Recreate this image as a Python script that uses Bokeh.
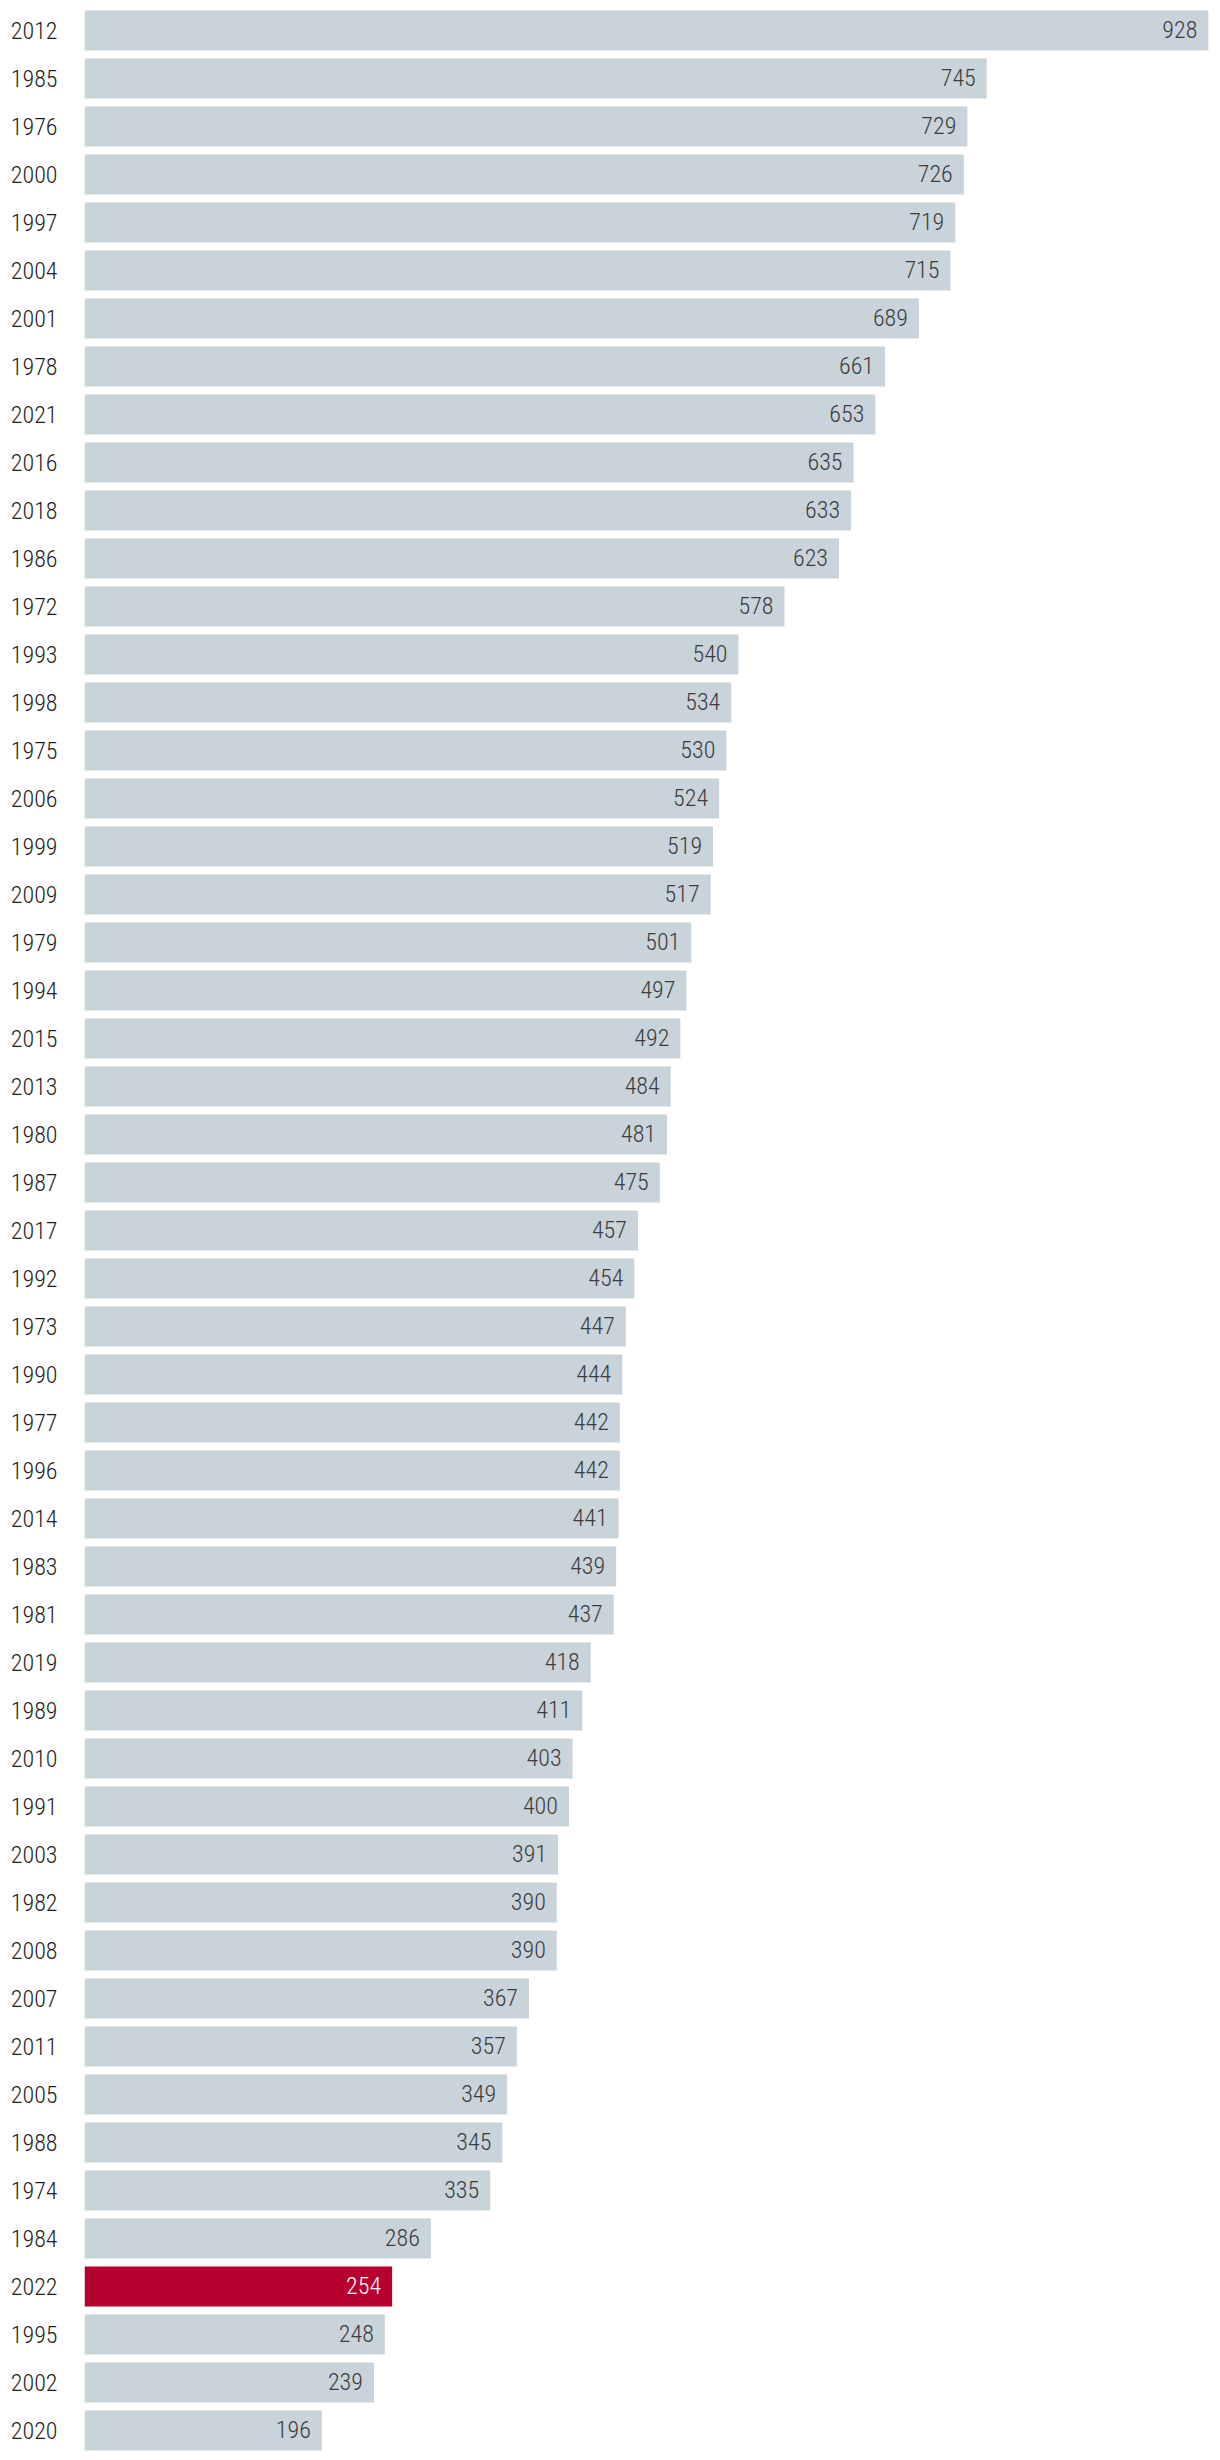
from bokeh.plotting import figure
from bokeh.models import ColumnDataSource, FactorRange, Range1d
from bokeh.core.properties import value
from bokeh.embed import file_html
from bokeh.resources import INLINE

years = ["2012", "1985", "1976", "2000", "1997", "2004", "2001", "1978", "2021", "2016",
         "2018", "1986", "1972", "1993", "1998", "1975", "2006", "1999", "2009", "1979",
         "1994", "2015", "2013", "1980", "1987", "2017", "1992", "1973", "1990", "1977",
         "1996", "2014", "1983", "1981", "2019", "1989", "2010", "1991", "2003", "1982",
         "2008", "2007", "2011", "2005", "1988", "1974", "1984", "2022", "1995", "2002",
         "2020"]
values = [928, 745, 729, 726, 719, 715, 689, 661, 653, 635,
          633, 623, 578, 540, 534, 530, 524, 519, 517, 501,
          497, 492, 484, 481, 475, 457, 454, 447, 444, 442,
          442, 441, 439, 437, 418, 411, 403, 400, 391, 390,
          390, 367, 357, 349, 345, 335, 286, 254, 248, 239,
          196]
highlight = "2022"

GRAY = "#c8d3da"
RED = "#b8002f"
FONT = "'Roboto Condensed Light', 'Roboto Light', 'Roboto Condensed', Roboto, sans-serif"

bar_colors = [RED if y == highlight else GRAY for y in years]
text_colors = ["#ffffff" if y == highlight else "#3c3c3c" for y in years]
labels = [str(v) for v in values]

src = ColumnDataSource(dict(year=years, val=values, bc=bar_colors, tc=text_colors, lab=labels))

p = figure(width=1220, height=2460,
           y_range=FactorRange(factors=list(reversed(years)), range_padding=0),
           x_range=Range1d(0, 938),
           output_backend="svg", toolbar_location=None,
           min_border_left=84, min_border_right=0, min_border_top=6, min_border_bottom=6)

p.hbar(y="year", right="val", left=0, height=0.8333, source=src,
       fill_color="bc", line_color=None)
p.text(x="val", y="year", text="lab", source=src, text_align="right",
       text_baseline="middle", x_offset=-11, y_offset=-1,
       text_font=value(FONT), text_font_size="24px", text_color="tc")

p.xaxis.visible = False
p.yaxis.axis_line_color = None
p.yaxis.major_tick_line_color = None
p.yaxis.minor_tick_line_color = None
p.yaxis.major_tick_out = 0
p.yaxis.major_label_standoff = 27
p.yaxis.major_label_text_font = FONT
p.yaxis.major_label_text_font_size = "24px"
p.yaxis.major_label_text_color = "#1e1e1e"
p.xgrid.visible = False
p.ygrid.visible = False
p.outline_line_color = None
p.background_fill_color = "white"
p.border_fill_color = "white"

open("out.html", "w").write(file_html(p, INLINE))
